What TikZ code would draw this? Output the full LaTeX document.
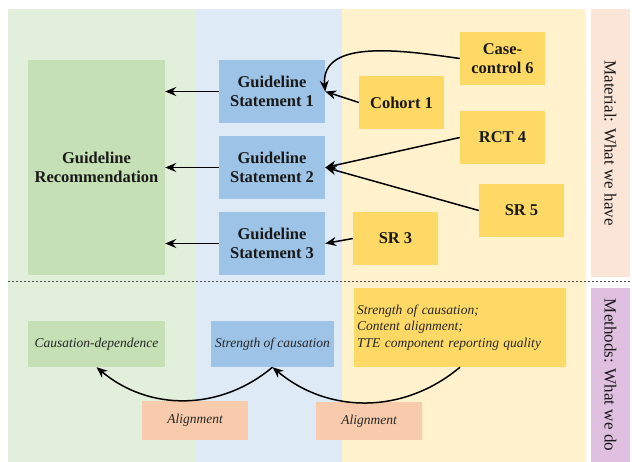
\documentclass[tikz,border=0pt]{standalone}
\usepackage{fontspec}
\setmainfont{Liberation Serif}
\usetikzlibrary{arrows.meta}

\definecolor{greenbg}{HTML}{E2EFDA}
\definecolor{greenbox}{HTML}{C5E0B4}
\definecolor{bluebg}{HTML}{DEEBF7}
\definecolor{bluebox}{HTML}{9DC3E6}
\definecolor{yellowbg}{HTML}{FFF2CC}
\definecolor{yellowbox}{HTML}{FFD966}
\definecolor{peachbg}{HTML}{FBE5D6}
\definecolor{peachbox}{HTML}{F8CBAD}
\definecolor{purplebg}{HTML}{DFC0E0}

\tikzset{
  card/.style={inner sep=0pt, align=center, text=black!90,
    font=\fontsize{16.5}{19}\selectfont\bfseries},
  note/.style={inner sep=0pt, align=center, text=black!85,
    font=\fontsize{13.5}{16.5}\selectfont\itshape},
  side/.style={rotate=-90, font=\fontsize{17}{20}\selectfont, text=black!90},
  link/.style={-{Stealth[length=11pt,width=9pt]}, line width=1.5pt}
}

\begin{document}
\begin{tikzpicture}[x=1pt,y=-1pt]
\useasboundingbox (0,0) rectangle (632,462);

% columns
\fill[greenbg] (8,9) rectangle (195,462);
\fill[bluebg] (195,9) rectangle (342,462);
\fill[yellowbg] (342,9) rectangle (586,462);
\fill[peachbg] (591,9) rectangle (630,277);
\fill[purplebg] (591,288) rectangle (630,462);
\draw[black!70, line width=1pt, dash pattern=on 2pt off 2pt] (8,282) -- (632,282);

\node[side] (mat) at (610.5,143) {Material: What we have};
\node[side] (meth) at (610.5,375) {Methods: What we do};

% material
\node[card, fill=greenbox, minimum width=137pt, minimum height=215pt] (rec) at (96.5,167.5) {Guideline\\Recommendation};
\node[card, fill=bluebox, minimum width=106pt, minimum height=63pt] (gs1) at (272,91.5) {Guideline\\Statement 1};
\node[card, fill=bluebox, minimum width=106pt, minimum height=63pt] (gs2) at (272,167.5) {Guideline\\Statement 2};
\node[card, fill=bluebox, minimum width=106pt, minimum height=63pt] (gs3) at (272,243.5) {Guideline\\Statement 3};

\node[card, fill=yellowbox, minimum width=85pt, minimum height=53pt] (cc6) at (502.5,58.5) {Case-\\control 6};
\node[card, fill=yellowbox, minimum width=85pt, minimum height=53pt] (coh1) at (401.5,102.5) {Cohort 1};
\node[card, fill=yellowbox, minimum width=85pt, minimum height=53pt] (rct4) at (502.5,137.5) {RCT 4};
\node[card, fill=yellowbox, minimum width=85pt, minimum height=53pt] (sr5) at (521.5,210.5) {SR 5};
\node[card, fill=yellowbox, minimum width=85pt, minimum height=53pt] (sr3) at (395.5,238.5) {SR 3};

\draw[link] (gs1.west) -- (rec.east |- gs1.west);
\draw[link] (gs2.west) -- (rec.east |- gs2.west);
\draw[link] (gs3.west) -- (rec.east |- gs3.west);

\draw[link] (cc6.west) to[out=172,in=95] (gs1.east);
\draw[link] (coh1.west) -- (gs1.east);
\draw[link] (rct4.west) -- (gs2.east);
\draw[link] (sr5.west) -- (gs2.east);
\draw[link] (sr3.west) -- (gs3.east);

% methods
\node[note, fill=greenbox, minimum width=137pt, minimum height=46pt] (dep) at (96.5,344) {Causation-dependence};
\node[note, fill=bluebox, minimum width=123pt, minimum height=46pt] (str) at (272.5,344) {Strength of causation};
\node[note, fill=yellowbox, minimum width=212pt, minimum height=79pt, align=left, text width=206pt] (qual) at (460,327.5) {Strength of causation;\\Content alignment;\\TTE component reporting quality};
\node[note, fill=peachbox, minimum width=106pt, minimum height=39pt] (al1) at (195,420.5) {Alignment};
\node[note, fill=peachbox, minimum width=106pt, minimum height=38pt] (al2) at (369,421) {Alignment};

\draw[link] (qual.south) to[out=-140,in=-40] (str.south);
\draw[link] (str.south) to[out=-140,in=-40] (dep.south);
\end{tikzpicture}
\end{document}
